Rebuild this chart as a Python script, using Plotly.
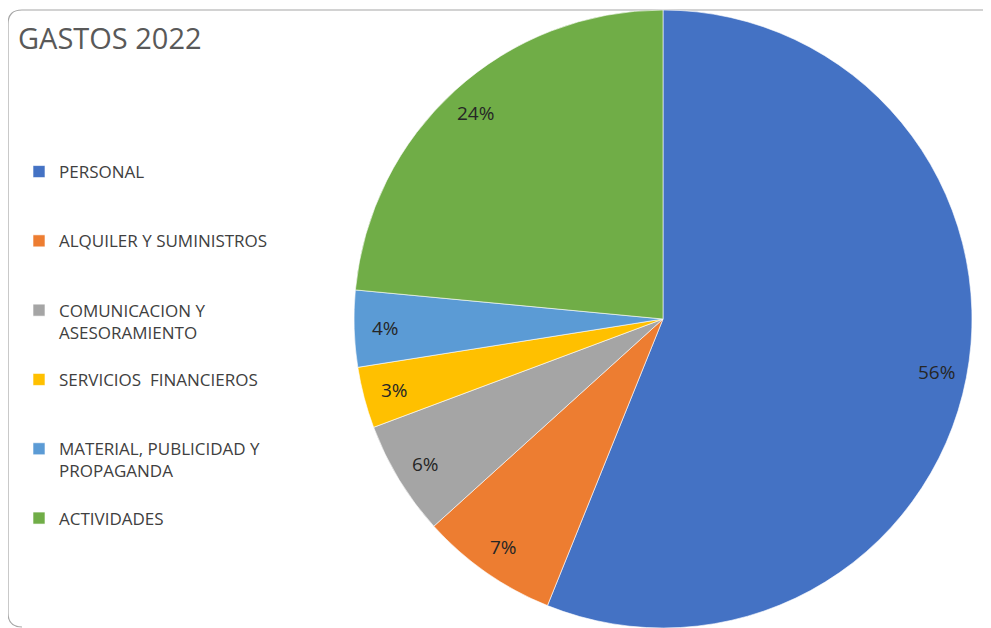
import math
import plotly.graph_objects as go

# page is 991x628; the browser body has an 8px default margin
OFF = 8
W, H = 991 - OFF, 628 - OFF

categories = ["PERSONAL", "ALQUILER Y SUMINISTROS", "COMUNICACION Y ASESORAMIENTO",
              "SERVICIOS  FINANCIEROS", "MATERIAL, PUBLICIDAD Y PROPAGANDA", "ACTIVIDADES"]
legend_labels = ["PERSONAL<br> <br> ", "ALQUILER Y SUMINISTROS<br> <br> ",
                 "COMUNICACION Y<br>ASESORAMIENTO<br> ", "SERVICIOS  FINANCIEROS<br> <br> ",
                 "MATERIAL, PUBLICIDAD Y<br>PROPAGANDA<br> ", "ACTIVIDADES"]
values = [56.1, 7.2, 6.0, 3.2, 4.0, 23.5]
colors = ["#4472C4", "#ED7D31", "#A5A5A5", "#FFC000", "#5B9BD5", "#70AD47"]
title_text = "GASTOS 2022"


def fx(x):  # page pixel -> paper x
    return (x - OFF) / W


def fy(y):  # page pixel -> paper y
    return 1 - (y - OFF) / H


# pie geometry (page pixels)
px0, px1 = 354, 972
py_top, py_bot = 10, 628
cx = (px0 + px1) / 2
cy = (py_top + py_bot) / 2
R = (px1 - px0) / 2
label_frac = 0.9

fig = go.Figure()
fig.add_trace(go.Pie(
    labels=legend_labels,
    values=values,
    sort=False,
    direction="clockwise",
    rotation=0,
    marker=dict(colors=colors, line=dict(color="white", width=0.6)),
    textinfo="none",
    hoverinfo="label+percent",
    domain=dict(x=[fx(px0), fx(px1)], y=[max(0, fy(py_bot)), fy(py_top)]),
))

# percentage labels positioned from the data (mid-angle of each slice)
total = sum(values)
cum = 0.0
annotations = []
for v in values:
    theta = 2 * math.pi * (cum + v / 2) / total
    cum += v
    x = cx + label_frac * R * math.sin(theta)
    y = cy - label_frac * R * math.cos(theta)
    annotations.append(dict(
        x=fx(x), y=fy(y), xref="paper", yref="paper",
        text=f"{round(v / total * 100)}%", showarrow=False,
        font=dict(family="Open Sans", size=19, color="#262626"),
        xanchor="center", yanchor="middle"))

annotations.append(dict(
    x=fx(16), y=fy(38), xref="paper", yref="paper", text=title_text,
    showarrow=False, xanchor="left", yanchor="middle",
    font=dict(family="Open Sans", size=29, color="#595959")))


def P(x, y):
    return f"{fx(x):.5f},{fy(y):.5f}"


border_path = ("M " + P(990, 10) + " L " + P(22, 10) + " Q " + P(8, 10) + " " + P(8, 24) +
               " L " + P(8, 613) + " Q " + P(8, 627) + " " + P(22, 627))

fig.update_layout(
    width=W, height=H,
    margin=dict(l=0, r=0, t=0, b=0),
    paper_bgcolor="white",
    plot_bgcolor="white",
    showlegend=True,
    legend=dict(x=fx(19), y=fy(154), xanchor="left", yanchor="top",
                valign="top", traceorder="normal",
                font=dict(family="Open Sans", size=17, color="#404040"),
                itemwidth=30, bgcolor="rgba(0,0,0,0)"),
    annotations=annotations,
    shapes=[dict(type="path", path=border_path, xref="paper", yref="paper",
                 line=dict(color="#A6A6A6", width=1.2), layer="below")],
)

fig.write_html("out.html")
